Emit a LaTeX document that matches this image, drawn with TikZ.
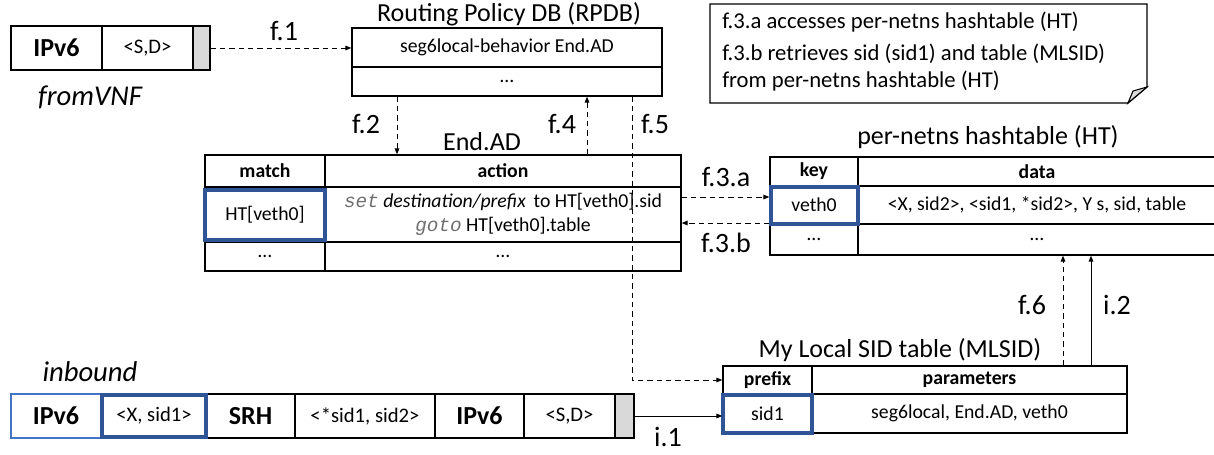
\documentclass[tikz,border=0pt]{standalone}
\usepackage{fontspec}
\setmainfont{Carlito}
\setmonofont{Liberation Mono}
\usetikzlibrary{fit,arrows.meta}
\definecolor{hlblue}{RGB}{47,85,151}
\definecolor{lblue}{RGB}{68,114,196}
\definecolor{cellgray}{RGB}{217,217,217}
\definecolor{monogray}{RGB}{110,110,110}
\begin{document}
\begin{tikzpicture}[x=0.75pt,y=-0.75pt,
  cell/.style={draw, line width=1pt, inner sep=0pt},
  hcell/.style={cell},
  pcell/.style={cell},
  graycell/.style={cell, fill=cellgray},
  hlbox/.style={draw=hlblue, line width=2.3pt, inner sep=0pt},
  thinblue/.style={draw=lblue, line width=0.9pt, inner sep=0pt},
  ctext/.style={font=\fontsize{14.8}{17.5}\selectfont, align=center},
  htext/.style={font=\fontsize{14.8}{17.5}\selectfont\bfseries},
  ptext/.style={font=\fontsize{15.5}{18}\selectfont},
  pbtext/.style={font=\fontsize{19.5}{22}\selectfont\bfseries},
  ttl/.style={font=\fontsize{19.5}{22}\selectfont, inner sep=1pt},
  lbl/.style={font=\fontsize{21}{24}\selectfont, inner sep=1pt},
  ilbl/.style={font=\fontsize{21.5}{24}\selectfont\itshape, inner sep=1pt},
  notetxt/.style={font=\fontsize{17}{20.5}\selectfont, align=left, inner sep=0pt},
  dasharrow/.style={dashed, dash pattern=on 4pt off 3pt, line width=0.75pt, -{Triangle[length=4.5pt,width=3.5pt]}},
  solarrow/.style={line width=0.75pt, -{Triangle[length=4.5pt,width=3.5pt]}}]
\useasboundingbox (0,0) rectangle (1214,454);

% ---------- fromVNF packet ----------
\node[pcell, fit={(11,26) (102,70)}] (v1) {};
\node[pbtext] at (v1.center) (v1t) {IPv6};
\node[pcell, fit={(102,26) (193,70)}] (v2) {};
\node[ptext] at (v2.center) (v2t) {<S,D>};
\node[graycell, fit={(193,26) (210,70)}] (v3) {};
\node[ilbl] at (90,97) (fromvnf) {fromVNF};

% ---------- RPDB ----------
\node[cell, fit={(352,28) (662,67)}] (rp1) {};
\node[ctext] at (rp1.center) (rp1t) {seg6local-behavior End.AD};
\node[cell, fit={(352,67) (662,96)}] (rp2) {};
\node[ctext] at (rp2.center) (rp2t) {\dots};
\node[ttl] at (509,14) (rptitle) {Routing Policy DB (RPDB)};

% ---------- note ----------
\draw[line width=1pt, fill=white] (710,4) -- (1147,4) -- (1147,87) -- (1128,103) -- (710,103) -- cycle;
\draw[line width=0.8pt, fill=cellgray] (1147,87) -- (1128,103) -- (1133,91) -- cycle;
\node[notetxt, anchor=north west] at (722,12) (note) {f.3.a accesses per-netns hashtable (HT)\\[3pt]f.3.b retrieves sid (sid1) and table (MLSID)\\from per-netns hashtable (HT)};

% ---------- End.AD table ----------
\node[hcell, fit={(205,155) (325,187)}] (e11) {};
\node[htext] at (e11.center) (e11t) {match};
\node[hcell, fit={(325,155) (681,187)}] (e12) {};
\node[htext] at (e12.center) (e12t) {action};
\node[cell, fit={(205,187) (325,242)}] (e21) {};
\node[ctext] at (e21.center) (e21t) {HT[veth0]};
\node[cell, fit={(325,187) (681,242)}] (e22) {};
\node[ctext] at (e22.center) (e22t)
  {{\color{monogray}\ttfamily\itshape\fontsize{14.5}{17}\selectfont set} \textit{destination/prefix}\, to HT[veth0].sid\\
   {\color{monogray}\ttfamily\itshape\fontsize{14.5}{17}\selectfont goto} HT[veth0].table};
\node[cell, fit={(205,242) (325,271)}] (e31) {};
\node[ctext] at (e31.center) (e31t) {\dots};
\node[cell, fit={(325,242) (681,271)}] (e32) {};
\node[ctext] at (e32.center) (e32t) {\dots};
\node[hlbox, fit={(205,190) (325,240)}] (ehl) {};
\node[ttl] at (482,142) (eadtitle) {End.AD};

% ---------- HT table ----------
\node[hcell, fit={(770,157) (858,186)}] (h11) {};
\node[htext] at (h11.center) (h11t) {key};
\node[hcell, fit={(858,157) (1216,186)}] (h12) {};
\node[htext] at (h12.center) (h12t) {data};
\node[cell, fit={(770,186) (858,224)}] (h21) {};
\node[ctext] at (h21.center) (h21t) {veth0};
\node[cell, fit={(858,186) (1216,224)}] (h22) {};
\node[ctext] at (h22.center) (h22t) {<X, sid2>, <sid1, *sid2>, Y s, sid, table};
\node[cell, fit={(770,224) (858,255)}] (h31) {};
\node[ctext] at (h31.center) (h31t) {\dots};
\node[cell, fit={(858,224) (1216,255)}] (h32) {};
\node[ctext] at (h32.center) (h32t) {\dots};
\node[hlbox, fit={(771,187) (858,224)}] (hhl) {};
\node[ttl] at (988,137) (httitle) {per-netns hashtable (HT)};

% ---------- MLSID table ----------
\node[hcell, fit={(723,366) (812,394)}] (m11) {};
\node[htext] at (m11.center) (m11t) {prefix};
\node[hcell, fit={(812,366) (1127,394)}] (m12) {};
\node[htext] at (m12.center) (m12t) {parameters};
\node[cell, fit={(723,394) (812,433)}] (m21) {};
\node[ctext] at (m21.center) (m21t) {sid1};
\node[cell, fit={(812,394) (1127,433)}] (m22) {};
\node[ctext] at (m22.center) (m22t) {seg6local, End.AD, veth0};
\node[hlbox, fit={(723,395) (812,433)}] (mhl) {};
\node[ttl] at (900,350) (mltitle) {My Local SID table (MLSID)};

% ---------- inbound packet ----------
\node[pcell, fit={(206,394) (295,438)}] (p3) {};
\node[pbtext] at (p3.center) (p3t) {SRH};
\node[pcell, fit={(295,394) (435,438)}] (p4) {};
\node[ptext] at (p4.center) (p4t) {<*sid1, sid2>};
\node[pcell, fit={(435,394) (524,438)}] (p5) {};
\node[pbtext] at (p5.center) (p5t) {IPv6};
\node[pcell, fit={(524,394) (615,438)}] (p6) {};
\node[ptext] at (p6.center) (p6t) {<S,D>};
\node[graycell, fit={(615,394) (634,438)}] (p7) {};
\node[thinblue, fit={(11,394) (101,438)}] (p1) {};
\node[pbtext] at (p1.center) (p1t) {IPv6};
\node[hlbox, fit={(102,395) (206,437)}] (p2) {};
\node[ptext] at (p2.center) (p2t) {<X, sid1>};
\node[ilbl] at (90,372) (inbound) {inbound};

% ---------- helper coordinates ----------
\coordinate (x397) at (397,0);
\coordinate (x587) at (587,0);
\coordinate (x632) at (632,0);
\coordinate (x1063) at (1063,0);
\coordinate (x1091) at (1091,0);
\coordinate (y197) at (0,197);
\coordinate (y223) at (0,223);

% ---------- connectors ----------
\draw[dasharrow] (v3.east) -- (rp1.west |- v3.east);
\node[lbl] at (284,31) (lf1) {f.1};
\draw[dasharrow] (rp2.south -| x397) -- (e12.north -| x397);
\node[lbl] at (366,124) (lf2) {f.2};
\draw[dasharrow] (e12.north -| x587) -- (rp2.south -| x587);
\node[lbl] at (562,124) (lf4) {f.4};
\draw[dasharrow] (rp2.south -| x632) |- (m11.west);
\node[lbl] at (655,124) (lf5) {f.5};
\draw[dasharrow] (e22.east |- y197) -- (h21.west |- y197);
\node[lbl] at (726,177) (lf3a) {f.3.a};
\draw[dasharrow] (h21.west |- y223) -- (e22.east |- y223);
\node[lbl] at (726,243) (lf3b) {f.3.b};
\draw[dasharrow] (m12.north -| x1063) -- (h32.south -| x1063);
\node[lbl] at (1032,305) (lf6) {f.6};
\draw[solarrow] (m12.north -| x1091) -- (h32.south -| x1091);
\node[lbl] at (1117,305) (li2) {i.2};
\draw[solarrow] (p7.east) -- (m21.west |- p7.east);
\node[lbl] at (668,437) (li1) {i.1};
\end{tikzpicture}
\end{document}
